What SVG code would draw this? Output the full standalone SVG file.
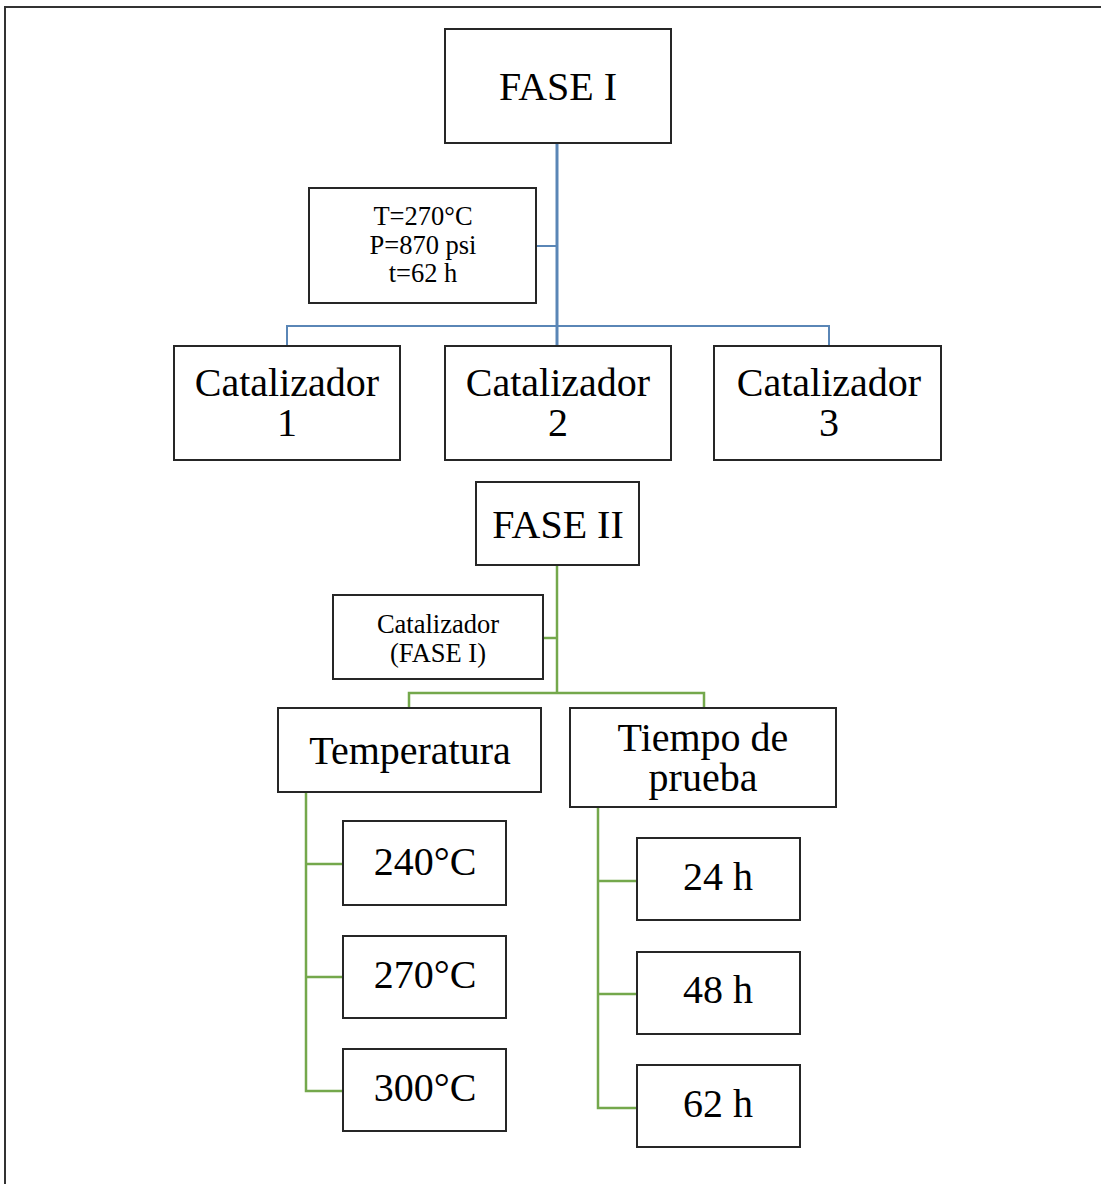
<svg xmlns="http://www.w3.org/2000/svg" width="1101" height="1184" viewBox="0 0 1101 1184">
<style>
.box{fill:#fff;stroke:#262626;stroke-width:2}
.t{font-family:"Liberation Serif","Times New Roman",serif;fill:#000;text-anchor:middle}
.big{font-size:40px}
.sm{font-size:26.5px}
.blue{stroke:#5a86b6;fill:none}
.green{stroke:#74a84c;fill:none;stroke-width:2.5}
</style>
<rect x="0" y="0" width="1101" height="1184" fill="#fff"/>
<path d="M5,1184 V7 H1101" fill="none" stroke="#333" stroke-width="2"/>
<g id="connectors">
<path class="blue" stroke-width="3" d="M557,143 V346"/>
<path class="blue" stroke-width="2" d="M536,246 H557"/>
<path class="blue" stroke-width="2" d="M287,346 V326 H829 V346"/>
<path class="green" d="M557,565 V693"/>
<path class="green" d="M543,638 H557"/>
<path class="green" d="M409,708 V693 H704 V708"/>
<path class="green" d="M306,792 V1091 H343 M306,864 H343 M306,977 H343"/>
<path class="green" d="M598,807 V1108 H637 M598,881 H637 M598,994 H637"/>
</g>
<g id="fase1"><rect class="box" x="445" y="29" width="226" height="114"/><text class="t big" x="558" y="100">FASE I</text></g>
<g id="params"><rect class="box" x="309" y="188" width="227" height="115"/>
<text class="t sm" x="423" y="225">T=270°C</text><text class="t sm" x="423" y="254">P=870 psi</text><text class="t sm" x="423" y="282">t=62 h</text></g>
<g id="cat1"><rect class="box" x="174" y="346" width="226" height="114"/><text class="t big" x="287" y="396">Catalizador</text><text class="t big" x="287" y="436">1</text></g>
<g id="cat2"><rect class="box" x="445" y="346" width="226" height="114"/><text class="t big" x="558" y="396">Catalizador</text><text class="t big" x="558" y="436">2</text></g>
<g id="cat3"><rect class="box" x="714" y="346" width="227" height="114"/><text class="t big" x="829" y="396">Catalizador</text><text class="t big" x="829" y="436">3</text></g>
<g id="fase2"><rect class="box" x="476" y="482" width="163" height="83"/><text class="t big" x="558" y="538">FASE II</text></g>
<g id="catfase"><rect class="box" x="333" y="595" width="210" height="84"/><text class="t sm" x="438" y="633">Catalizador</text><text class="t sm" x="438" y="662">(FASE I)</text></g>
<g id="temperatura"><rect class="box" x="278" y="708" width="263" height="84"/><text class="t big" x="410" y="764">Temperatura</text></g>
<g id="tiempo"><rect class="box" x="570" y="708" width="266" height="99"/><text class="t big" x="703" y="751">Tiempo de</text><text class="t big" x="703" y="791">prueba</text></g>
<g id="t240"><rect class="box" x="343" y="821" width="163" height="84"/><text class="t big" x="425" y="875">240°C</text></g>
<g id="t270"><rect class="box" x="343" y="936" width="163" height="82"/><text class="t big" x="425" y="988">270°C</text></g>
<g id="t300"><rect class="box" x="343" y="1049" width="163" height="82"/><text class="t big" x="425" y="1101">300°C</text></g>
<g id="h24"><rect class="box" x="637" y="838" width="163" height="82"/><text class="t big" x="718" y="890">24 h</text></g>
<g id="h48"><rect class="box" x="637" y="952" width="163" height="82"/><text class="t big" x="718" y="1003">48 h</text></g>
<g id="h62"><rect class="box" x="637" y="1065" width="163" height="82"/><text class="t big" x="718" y="1117">62 h</text></g>
</svg>
